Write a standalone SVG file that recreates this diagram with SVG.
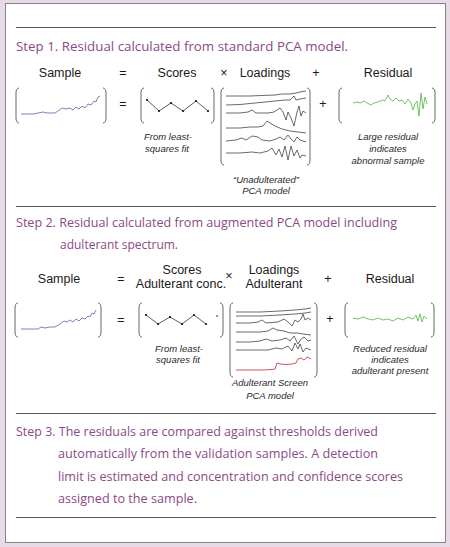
<svg xmlns="http://www.w3.org/2000/svg" width="450" height="547" viewBox="0 0 450 547">
<style>
.title{font-family:"Open Sans","Liberation Sans",sans-serif;font-size:13px;fill:#8b4a86}
.lbl{font-family:"Liberation Sans",Arial,sans-serif;font-size:12.5px;fill:#1a1a1a;text-anchor:middle}
.cap{font-family:"Liberation Sans",Arial,sans-serif;font-size:9.5px;font-style:italic;fill:#2a2a2a;text-anchor:middle}
.rule{stroke:#5e525e;stroke-width:1}
.br{fill:none;stroke:#666;stroke-width:1}
.spec{fill:none;stroke:#5a63a8;stroke-width:0.8}
.load{fill:none;stroke:#444;stroke-width:0.8}
.res{fill:none;stroke:#5fbf55;stroke-width:0.9}
.red{fill:none;stroke:#c9404f;stroke-width:0.9}
.sc{fill:none;stroke:#333;stroke-width:0.8}
</style>
<rect x="0" y="0" width="450" height="547" fill="#e6dbe6"/>
<rect x="5.5" y="3.5" width="440" height="539" fill="#ffffff" stroke="#8a7f8a" stroke-width="1"/>
<g id="rules">
<line class="rule" x1="16" y1="27.5" x2="436" y2="27.5"/>
<line class="rule" x1="16" y1="206.5" x2="436" y2="206.5"/>
<line class="rule" x1="16" y1="413.5" x2="436" y2="413.5"/>
<line class="rule" x1="16" y1="517.5" x2="436" y2="517.5"/>
</g>
<g id="step1">
<text class="title" x="16" y="51" textLength="332" lengthAdjust="spacingAndGlyphs">Step 1. Residual calculated from standard PCA model.</text>
<text class="lbl" x="60" y="77">Sample</text>
<text class="lbl" x="123" y="77">=</text>
<text class="lbl" x="177" y="77">Scores</text>
<text class="lbl" x="224" y="77">×</text>
<text class="lbl" x="265" y="77">Loadings</text>
<text class="lbl" x="316" y="77">+</text>
<text class="lbl" x="388" y="77">Residual</text>
</g>
<g id="s1-sample">
<path class="br" d="M19,88 C17,88 16,90 16,93 V118 C16,121 17,123 19,123"/>
<path class="br" d="M103,88 C105,88 106,90 106,93 V118 C106,121 105,123 103,123"/>
<polyline class="spec" points="21,114 33,114 38,113 43,112 47,113 55,113 58,111 62,108 66,109 70,108 73,110 76,107 79,109 82,106 85,108 88,104 91,105 94,101 96,102 98,97 100,96"/>
</g>
<text class="lbl" x="123" y="108">=</text>
<g id="s1-scores">
<path class="br" d="M144,88 C142,88 141,90 141,93 V118 C141,121 142,123 144,123"/>
<path class="br" d="M211,88 C213,88 214,90 214,93 V118 C214,121 213,123 211,123"/>
<polyline class="sc" points="147,100 159,111 171,103 183,111 196,101 208,111"/>
<g fill="#111"><circle cx="147" cy="100" r="1.1"/><circle cx="159" cy="111" r="1.1"/><circle cx="171" cy="103" r="1.1"/><circle cx="183" cy="111" r="1.1"/><circle cx="196" cy="101" r="1.1"/><circle cx="208" cy="111" r="1.1"/></g>
<text class="cap" x="168" y="140">From least-</text>
<text class="cap" x="167" y="152">squares fit</text>
</g>
<g id="s1-loadings">
<path class="br" d="M224,88 C222,88 221,90 221,93 V160 C221,163 222,165 224,165"/>
<path class="br" d="M307,88 C309,88 310,90 310,93 V160 C310,163 309,165 307,165"/>
<path class="load" d="M226,96 L250,96 L262,95.5 L275,95 L282,94 L290,94 L296,93 L300,92 L306,91"/>
<path class="load" d="M226,105 L240,104.5 L255,103 L265,102 L275,101 L285,100 L290,100 L294,96 L296,100 L300,99 L306,98"/>
<path class="load" d="M226,113 L240,113 L248,112 L252,110 L256,113 L268,113 L274,112 L280,108 L283,112 L286,120 L288,112 L291,118 L294,126 L297,112 L299,106 L301,116 L303,111 L306,113"/>
<path class="load" d="M226,128 L240,128 L250,127 L258,127 L263,126 L267,121 L270,123 L275,126 L282,129 L290,131 L298,132 L306,133"/>
<path class="load" d="M226,141 L236,140 L242,138 L246,140 L252,136 L258,137 L262,140 L270,141 L276,139 L280,137 L284,140 L288,135 L291,139 L294,142 L297,137 L300,140 L306,142"/>
<path class="load" d="M226,153 L240,153 L252,152 L260,153 L268,151 L272,148 L276,155 L279,149 L282,157 L285,146 L288,160 L291,146 L294,156 L297,150 L300,158 L302,155 L306,156"/>
<text class="cap" x="266" y="183">“Unadulterated”</text>
<text class="cap" x="266" y="194">PCA model</text>
</g>
<text class="lbl" x="323" y="108">+</text>
<g id="s1-residual">
<path class="br" d="M342,88 C340,88 339,90 339,93 V118 C339,121 340,123 342,123"/>
<path class="br" d="M432,88 C434,88 435,90 435,93 V118 C435,121 434,123 432,123"/>
<polyline class="res" points="353,103 357,102 360,103 364,101 367,103 371,105 374,103 378,102 382,100 385,101 388,95 390,99 393,101 396,98 399,101 402,100 405,104 408,99 411,103 413,110 415,104 417,101 419,116 421,93 423,109 425,97 427,104"/>
<text class="cap" x="388" y="140">Large residual</text>
<text class="cap" x="388" y="152">indicates</text>
<text class="cap" x="388" y="164">abnormal sample</text>
</g>
<g id="step2">
<text class="title" x="16" y="227" textLength="381" lengthAdjust="spacingAndGlyphs">Step 2. Residual calculated from augmented PCA model including</text>
<text class="title" x="60" y="249" textLength="118" lengthAdjust="spacingAndGlyphs">adulterant spectrum.</text>
<text class="lbl" x="59" y="283">Sample</text>
<text class="lbl" x="121" y="283">=</text>
<text class="lbl" x="182" y="274">Scores</text>
<text class="lbl" x="181" y="288">Adulterant conc.</text>
<text class="lbl" x="229" y="280">×</text>
<text class="lbl" x="274" y="274">Loadings</text>
<text class="lbl" x="274" y="288">Adulterant</text>
<text class="lbl" x="328" y="283">+</text>
<text class="lbl" x="390" y="283">Residual</text>
</g>
<g id="s2-sample">
<path class="br" d="M18,303 C16,303 15,305 15,308 V332 C15,335 16,337 18,337"/>
<path class="br" d="M98,303 C100,303 101,305 101,308 V332 C101,335 100,337 98,337"/>
<polyline class="spec" points="21,329 38,329 41,327 45,328 50,327 55,327 60,324 64,321 67,322 70,320 73,322 76,319 79,321 82,318 85,319 88,316 90,317 92,313 94,314 96,310"/>
</g>
<text class="lbl" x="121" y="324">=</text>
<g id="s2-scores">
<path class="br" d="M142,303 C140,303 139,305 139,308 V332 C139,335 140,337 142,337"/>
<path class="br" d="M220,303 C222,303 223,305 223,308 V332 C223,335 222,337 220,337"/>
<polyline class="sc" points="146,315 158,324 170,317 182,324 194,315 206,324"/>
<g fill="#111"><circle cx="146" cy="315" r="1.1"/><circle cx="158" cy="324" r="1.1"/><circle cx="170" cy="317" r="1.1"/><circle cx="182" cy="324" r="1.1"/><circle cx="194" cy="315" r="1.1"/><circle cx="206" cy="324" r="1.1"/><circle cx="217" cy="316" r="0.8"/></g>
<text class="cap" x="179" y="352">From least-</text>
<text class="cap" x="178" y="363">squares fit</text>
</g>
<g id="s2-loadings">
<path class="br" d="M233,303 C231,303 230,305 230,308 V372 C230,375 231,377 233,377"/>
<path class="br" d="M314,303 C316,303 317,305 317,308 V372 C317,375 316,377 314,377"/>
<path class="load" d="M236,312 L260,312 L280,311 L295,310 L305,309 L311,308"/>
<path class="load" d="M236,316 L260,316 L280,315 L295,314 L305,313 L311,312"/>
<path class="load" d="M236,323 L250,323 L258,322 L262,320 L266,323 L278,322 L284,319 L288,322 L292,326 L295,320 L298,322 L301,319 L303,314 L305,320 L308,318 L311,320"/>
<path class="load" d="M236,332 L260,332 L268,331 L273,328 L277,330 L284,331 L290,333 L297,333 L303,334 L311,335"/>
<path class="load" d="M236,342 L250,342 L260,341 L266,339 L272,341 L280,340 L286,338 L290,341 L294,336 L298,344 L301,339 L304,337 L308,341 L311,340"/>
<path class="load" d="M236,350 L255,350 L268,350 L276,348 L282,349 L288,346 L292,351 L295,343 L298,349 L300,344 L303,352 L306,348 L311,350"/>
<path class="red" d="M236,370 L250,370 L262,370 L272,369.5 L275,369 L277,363 L280,364 L286,364.5 L292,364 L296,363 L298,359 L301,358 L304,360 L307,357 L311,359"/>
<text class="cap" x="270" y="386">Adulterant Screen</text>
<text class="cap" x="270" y="399">PCA model</text>
</g>
<text class="lbl" x="330" y="323">+</text>
<g id="s2-residual">
<path class="br" d="M348,303 C346,303 345,305 345,308 V332 C345,335 346,337 348,337"/>
<path class="br" d="M431,303 C433,303 434,305 434,308 V332 C434,335 433,337 431,337"/>
<polyline class="res" points="353,318 358,319 363,317 368,319 373,320 378,318 383,320 388,319 393,321 398,318 403,320 408,317 413,319 416,315 418,321 420,314 422,322 424,316 427,319"/>
<text class="cap" x="390" y="352">Reduced residual</text>
<text class="cap" x="390" y="363">indicates</text>
<text class="cap" x="390" y="374">adulterant present</text>
</g>
<g id="step3">
<text class="title" x="16" y="436" textLength="362" lengthAdjust="spacingAndGlyphs">Step 3. The residuals are compared against thresholds derived</text>
<text class="title" x="58" y="458" textLength="320" lengthAdjust="spacingAndGlyphs">automatically from the validation samples. A detection</text>
<text class="title" x="58" y="481" textLength="345" lengthAdjust="spacingAndGlyphs">limit is estimated and concentration and confidence scores</text>
<text class="title" x="58" y="503" textLength="139" lengthAdjust="spacingAndGlyphs">assigned to the sample.</text>
</g>
</svg>
